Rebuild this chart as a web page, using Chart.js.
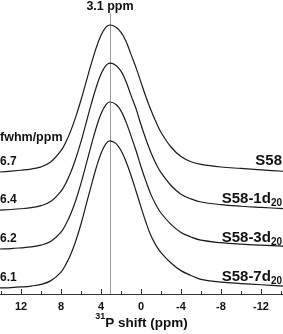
<!DOCTYPE html>
<html>
<head>
<meta charset="utf-8">
<script src="https://cdn.jsdelivr.net/npm/chart.js@4"></script>
<style>
  html, body { margin: 0; padding: 0; background: #fff; }
</style>
</head>
<body>
<canvas id="c" width="283" height="334"></canvas>
<script>
// chemical shift grid (ppm), shared by all traces
const ppm = [14.1, 13, 12, 11, 10, 9, 8, 7.5, 7, 6.5, 6, 5.5, 5, 4.5, 4, 3.5, 3.1,
  2.5, 2, 1.5, 1, 0.5, 0, -0.5, -1, -1.5, -2, -3, -4, -5, -6, -8, -10, -12, -14.2];

// normalised intensities
const s58 = [0, 0.006, 0.012, 0.02, 0.035, 0.07, 0.145, 0.205, 0.285, 0.38, 0.49, 0.61, 0.73, 0.84, 0.93, 0.985, 1.0,
  0.985, 0.95, 0.89, 0.80, 0.71, 0.61, 0.51, 0.42, 0.34, 0.27, 0.17, 0.105, 0.07, 0.052, 0.034, 0.024, 0.014, 0.005];
const s58_1d = [0, 0.004, 0.009, 0.016, 0.03, 0.06, 0.128, 0.185, 0.26, 0.355, 0.465, 0.59, 0.715, 0.83, 0.925, 0.984, 1.0,
  0.984, 0.945, 0.875, 0.78, 0.69, 0.58, 0.48, 0.39, 0.315, 0.255, 0.167, 0.108, 0.076, 0.055, 0.037, 0.026, 0.018, 0.01];
const s58_3d = [0, 0.003, 0.008, 0.014, 0.026, 0.053, 0.115, 0.17, 0.243, 0.335, 0.447, 0.572, 0.70, 0.82, 0.92, 0.983, 1.0,
  0.983, 0.94, 0.865, 0.77, 0.67, 0.56, 0.46, 0.37, 0.30, 0.245, 0.168, 0.113, 0.082, 0.06, 0.043, 0.033, 0.026, 0.02];
const s58_7d = [0, 0.003, 0.007, 0.013, 0.024, 0.05, 0.108, 0.162, 0.233, 0.325, 0.435, 0.562, 0.69, 0.813, 0.915, 0.982, 1.0,
  0.982, 0.935, 0.86, 0.765, 0.66, 0.55, 0.445, 0.355, 0.29, 0.24, 0.17, 0.118, 0.085, 0.058, 0.04, 0.03, 0.022, 0.013];

const traces = [s58, s58_1d, s58_3d, s58_7d];
const offsets = [0.83, 0.571, 0.306, 0.041];   // vertical stacking of the traces
const fwhm = ['6.7', '6.4', '6.2', '6.1'];
const sampleNames = ['S58', 'S58-1d', 'S58-3d', 'S58-7d'];
const sampleSubs = ['', '20', '20', '20'];
const tickValues = [12, 8, 4, 0, -4, -8, -12];
const minorValues = [14, 10, 6, 2, -2, -6, -10, -14];
const peakPpm = 3.1;

const FONT = '"Liberation Sans", Arial, sans-serif';

const overlay = {
  id: 'overlay',
  beforeDatasetsDraw(chart) {
    const { ctx, chartArea, scales: { x } } = chart;
    const px = Math.round(x.getPixelForValue(peakPpm)) + 0.5;
    ctx.save();
    ctx.strokeStyle = '#9a9a9a';
    ctx.lineWidth = 1;
    ctx.beginPath();
    ctx.moveTo(px, 13);
    ctx.lineTo(px, chartArea.bottom);
    ctx.stroke();
    ctx.restore();
  },
  afterDraw(chart) {
    const { ctx, chartArea, scales: { x, y } } = chart;
    ctx.save();
    // inward tick marks
    ctx.strokeStyle = '#333';
    ctx.lineWidth = 1;
    const yb = chartArea.bottom;
    ctx.beginPath();
    tickValues.forEach((v) => {
      const p = Math.round(x.getPixelForValue(v)) + 0.5;
      ctx.moveTo(p, yb); ctx.lineTo(p, yb - 5);
    });
    minorValues.forEach((v) => {
      const p = Math.round(x.getPixelForValue(v)) + 0.5;
      ctx.moveTo(p, yb); ctx.lineTo(p, yb - 3);
    });
    ctx.stroke();

    ctx.fillStyle = '#111';
    ctx.textBaseline = 'middle';
    // peak position label
    ctx.font = 'bold 12.5px ' + FONT;
    ctx.textAlign = 'center';
    ctx.fillText(peakPpm + ' ppm', x.getPixelForValue(peakPpm), 7);

    // axis title with superscript mass number
    const cx = (chartArea.left + chartArea.right) / 2;
    ctx.textAlign = 'left';
    ctx.font = 'bold 9px ' + FONT;
    const supW = ctx.measureText('31').width;
    ctx.font = 'bold 13.5px ' + FONT;
    const mainW = ctx.measureText('P shift (ppm)').width;
    const tx = cx - (supW + mainW) / 2;
    ctx.fillText('P shift (ppm)', tx + supW, 323);
    ctx.font = 'bold 9px ' + FONT;
    ctx.fillText('31', tx, 317);

    // fwhm column on the left
    ctx.font = 'bold 12.5px ' + FONT;
    ctx.fillText('fwhm/ppm', 0, y.getPixelForValue(offsets[0]) - 34);
    ctx.font = 'bold 12px ' + FONT;
    fwhm.forEach((t, i) => {
      ctx.fillText(t, 0, y.getPixelForValue(offsets[i]) - 10);
    });

    // sample names on the right
    sampleNames.forEach((t, i) => {
      const yc = y.getPixelForValue(offsets[i]) - 11.5;
      ctx.font = 'bold 10px ' + FONT;
      const subW = sampleSubs[i] ? ctx.measureText(sampleSubs[i]).width : 0;
      const right = chartArea.right - 1;
      if (sampleSubs[i]) {
        ctx.textAlign = 'right';
        ctx.fillText(sampleSubs[i], right, yc + 5);
      }
      ctx.font = 'bold 15px ' + FONT;
      ctx.textAlign = 'right';
      ctx.fillText(t, right - subW, yc);
    });
    ctx.restore();
  }
};

new Chart(document.getElementById('c'), {
  type: 'line',
  data: {
    datasets: traces.map((vals, i) => ({
      label: sampleNames[i] + sampleSubs[i],
      data: ppm.map((p, j) => ({ x: p, y: vals[j] + offsets[i] })),
      borderColor: '#1a1a1a',
      borderWidth: 1.2,
      pointRadius: 0,
      fill: false,
      tension: 0.4
    }))
  },
  options: {
    responsive: false,
    animation: false,
    layout: { padding: 0 },
    plugins: { legend: { display: false }, tooltip: { enabled: false } },
    scales: {
      x: {
        type: 'linear',
        reverse: true,
        min: -14.2,
        max: 14.1,
        grid: { display: false, drawTicks: false },
        border: { display: true, color: '#333', width: 1 },
        afterBuildTicks: (scale) => { scale.ticks = tickValues.map((v) => ({ value: v })); },
        afterFit: (scale) => { scale.height = 40; },
        ticks: {
          autoSkip: false,
          maxRotation: 0,
          padding: 6,
          color: '#111',
          font: { family: FONT, size: 11, weight: 'bold' }
        },
        title: { display: false }
      },
      y: {
        display: false,
        min: 0,
        max: 2
      }
    }
  },
  plugins: [overlay]
});
</script>
</body>
</html>
